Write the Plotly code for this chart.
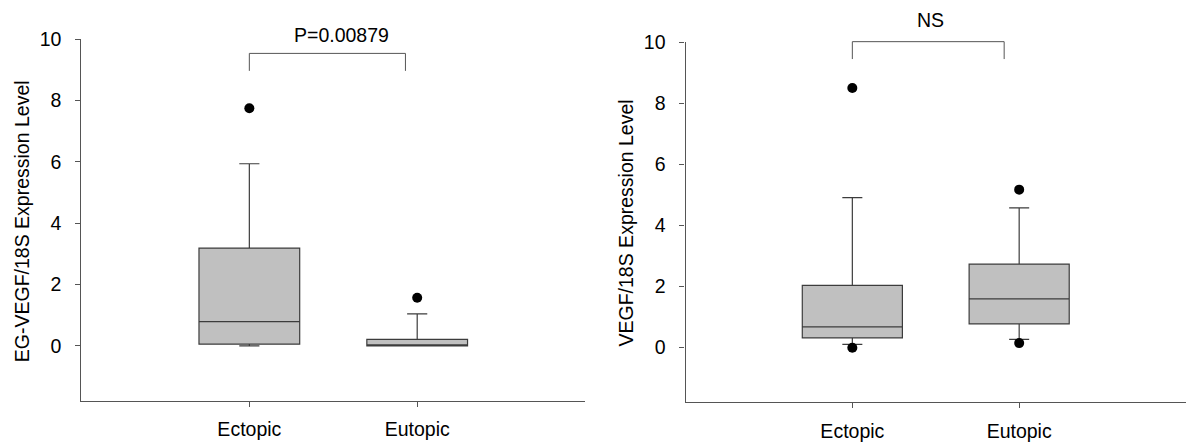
import plotly.graph_objects as go

categories = ["Ectopic", "Eutopic"]
cat_pos = [1, 2]

# Left panel: EG-VEGF/18S
left_q1 = [0.055, 0.0]
left_median = [0.79, 0.0]
left_q3 = [3.19, 0.21]
left_lower = [0.0, 0.0]
left_upper = [5.94, 1.04]
left_out_x = [1, 2]
left_out_y = [7.75, 1.57]

# Right panel: VEGF/18S
right_q1 = [0.31, 0.77]
right_median = [0.67, 1.59]
right_q3 = [2.03, 2.73]
right_lower = [0.10, 0.26]
right_upper = [4.91, 4.57]
right_out_x = [1, 1, 2, 2]
right_out_y = [8.5, -0.01, 5.17, 0.14]

left_title = "EG-VEGF/18S Expression Level"
right_title = "VEGF/18S Expression Level"
left_p = "P=0.00879"
right_p = "NS"

FONT = "Liberation Sans, Arial, sans-serif"
FS = 19.5
AX = "#555555"
BOXLINE = "#3c3c3c"
W, H = 1186, 446
YMIN, YMAX = -1.8, 10

fig = go.Figure()

def add_panel(xa, ya, q1, med, q3, lo, hi, ox, oy):
    fig.add_trace(go.Box(
        x=cat_pos, q1=q1, median=med, q3=q3, lowerfence=lo, upperfence=hi,
        width=0.6, whiskerwidth=0.2, fillcolor="#c0c0c0",
        line=dict(color=BOXLINE, width=1.2), boxpoints=False,
        xaxis=xa, yaxis=ya, showlegend=False, hoverinfo="skip"))
    fig.add_trace(go.Scatter(
        x=ox, y=oy, mode="markers", xaxis=xa, yaxis=ya,
        marker=dict(color="black", size=10), showlegend=False,
        cliponaxis=False, hoverinfo="skip"))

add_panel("x", "y", left_q1, left_median, left_q3, left_lower, left_upper, left_out_x, left_out_y)
add_panel("x2", "y2", right_q1, right_median, right_q3, right_lower, right_upper, right_out_x, right_out_y)

xcommon = dict(range=[0, 3], tickvals=cat_pos, ticktext=categories, showline=True,
               linecolor=AX, linewidth=1.2, ticks="outside", ticklen=5, tickcolor=AX,
               showgrid=False, zeroline=False, ticklabelstandoff=6, automargin=False,
               tickfont=dict(family=FONT, size=FS, color="black"))
ycommon = dict(range=[YMIN, YMAX], tickvals=[0, 2, 4, 6, 8, 10], showline=True,
               linecolor=AX, linewidth=1.2, ticks="outside", ticklen=5, tickcolor=AX,
               showgrid=False, zeroline=False, ticklabelstandoff=10, automargin=False,
               tickfont=dict(family=FONT, size=FS, color="black"))

ydom1 = [0.1009, 0.9119]
ydom2 = [0.098, 0.9052]

fig.update_layout(
    template="none",
    width=W, height=H,
    margin=dict(l=0, r=0, t=0, b=0, pad=0),
    paper_bgcolor="white", plot_bgcolor="white",
    font=dict(family=FONT, size=FS, color="black"),
    xaxis=dict(domain=[0.0687, 0.4933], anchor="y", **xcommon),
    yaxis=dict(domain=ydom1, anchor="x", **ycommon),
    xaxis2=dict(domain=[0.578, 1.0], anchor="y2", **xcommon),
    yaxis2=dict(domain=ydom2, anchor="x2", **ycommon),
)

def to_paper(v, dom):
    return dom[0] + (v - YMIN) / (YMAX - YMIN) * (dom[1] - dom[0])

# significance brackets (y in paper coordinates so they are not clipped)
def bracket(xr, dom, y_top, y_drop, x1, x2):
    yt, yd = to_paper(y_top, dom), to_paper(y_drop, dom)
    for (a, b, c, d) in [(x1, yd, x1, yt), (x1, yt, x2, yt), (x2, yt, x2, yd)]:
        fig.add_shape(type="line", xref=xr, yref="paper", x0=a, y0=b, x1=c, y1=d,
                      line=dict(color=AX, width=1))

bracket("x", ydom1, 9.54, 8.97, 1, 1.93)
bracket("x2", ydom2, 10.02, 9.45, 1, 1.91)

fig.add_annotation(xref="paper", yref="paper", x=341.7 / W, y=1 - 35 / H, text=left_p,
                   showarrow=False, xanchor="center", yanchor="middle",
                   font=dict(family=FONT, size=FS, color="black"))
fig.add_annotation(xref="paper", yref="paper", x=930.2 / W, y=1 - 20 / H, text=right_p,
                   showarrow=False, xanchor="center", yanchor="middle",
                   font=dict(family=FONT, size=FS, color="black"))

# y-axis titles
fig.add_annotation(xref="paper", yref="paper", x=21.7 / W, y=1 - 221.5 / H,
                   text=left_title, textangle=-90, showarrow=False,
                   xanchor="center", yanchor="middle",
                   font=dict(family=FONT, size=FS, color="black"))
fig.add_annotation(xref="paper", yref="paper", x=626 / W, y=1 - 223.5 / H,
                   text=right_title, textangle=-90, showarrow=False,
                   xanchor="center", yanchor="middle",
                   font=dict(family=FONT, size=FS, color="black"))

fig.write_html("out.html", config={"displayModeBar": False},
               post_script="document.body.style.margin='0';document.body.style.overflow='hidden';")
